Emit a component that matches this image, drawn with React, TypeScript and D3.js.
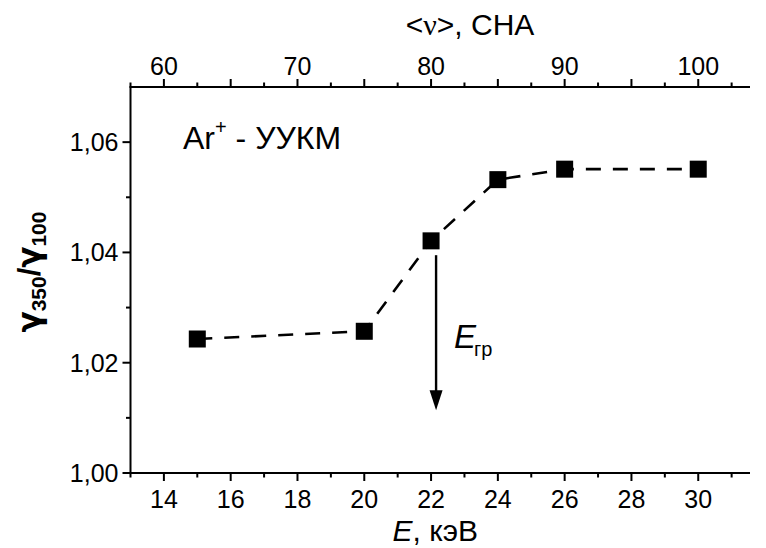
import React from "react";
import * as d3 from "d3";

// Beam energy, keV, and the measured ratio γ350/γ100
const energy = [15, 20, 22, 24, 26, 30];
const ratio = [1.0243, 1.0257, 1.0421, 1.0532, 1.0551, 1.0551];

// Axis ticks
const xMajor = [14, 16, 18, 20, 22, 24, 26, 28, 30];
const xMinor = [13, 15, 17, 19, 21, 23, 25, 27, 29, 31];
const yMajor = [1.0, 1.02, 1.04, 1.06];
const yMinor = [1.01, 1.03, 1.05];
const nuLabels = [60, 70, 80, 90, 100];

// Threshold energy marker
const thresholdE = 22.15;
const thresholdFrom = 1.0395;
const thresholdTo = 1.0114;

const W = 766;
const H = 548;
const FONT = "'Liberation Sans', Arial, Helvetica, sans-serif";
const GREEK = "'DejaVu Sans', 'Liberation Sans', sans-serif";

export default function App() {
  const left = 130.5;
  const right = 750;
  const top = 87;
  const bottom = 473;

  const x = d3.scaleLinear().domain([13, 31.55]).range([left, right]);
  const y = d3.scaleLinear().domain([1.0, 1.07]).range([bottom, top]);
  // top axis: <ν> is linear in E (E=14 → 60, E=30 → 100)
  const nuOf = (e: number) => 60 + 2.5 * (e - 14);
  const xNu = d3.scaleLinear().domain([nuOf(13), nuOf(31.55)]).range([left, right]);

  const pts = energy.map((e, i) => [x(e), y(ratio[i])] as [number, number]);
  const line = d3.line()(pts) || "";

  const fmt = (v: number) => v.toFixed(2).replace(".", ",");
  const major = 8;
  const minor = 4.5;
  const sw = 2;
  const ax = thresholdE;

  return (
    <svg width={W} height={H} style={{ position: "absolute", left: 0, top: 0 }}
      fontFamily={FONT}>
      <rect width={W} height={H} fill="#fff" />

      {/* left axis */}
      <line x1={left} x2={left} y1={top} y2={bottom} stroke="#000" strokeWidth={sw} />
      {yMajor.map((v) => (
        <g key={"ym" + v}>
          <line x1={left - major} x2={left} y1={y(v)} y2={y(v)} stroke="#000" strokeWidth={sw} />
          <text x={left - 12} y={y(v)} dy="0.36em" textAnchor="end" fontSize={25}>{fmt(v)}</text>
        </g>
      ))}
      {yMinor.map((v) => (
        <line key={"yn" + v} x1={left - minor} x2={left} y1={y(v)} y2={y(v)} stroke="#000" strokeWidth={sw} />
      ))}

      {/* bottom axis */}
      <line x1={left - 1} x2={right} y1={bottom} y2={bottom} stroke="#000" strokeWidth={sw} />
      {xMajor.map((v) => (
        <g key={"xm" + v}>
          <line x1={x(v)} x2={x(v)} y1={bottom} y2={bottom + major} stroke="#000" strokeWidth={sw} />
          <text x={x(v)} y={bottom + 35} textAnchor="middle" fontSize={25}>{v}</text>
        </g>
      ))}
      {xMinor.map((v) => (
        <line key={"xn" + v} x1={x(v)} x2={x(v)} y1={bottom} y2={bottom + minor} stroke="#000" strokeWidth={sw} />
      ))}

      {/* top axis, <ν> */}
      <line x1={left - 1} x2={right} y1={top} y2={top} stroke="#000" strokeWidth={sw} />
      {d3.range(60, 101, 5).map((v) => (
        <line key={"tm" + v} x1={xNu(v)} x2={xNu(v)} y1={top} y2={top - major} stroke="#000" strokeWidth={sw} />
      ))}
      {d3.range(57.5, 104, 5).map((v) => (
        <line key={"tn" + v} x1={xNu(v)} x2={xNu(v)} y1={top} y2={top - minor} stroke="#000" strokeWidth={sw} />
      ))}
      {nuLabels.map((v) => (
        <text key={"tl" + v} x={xNu(v)} y={top - 12} textAnchor="middle" fontSize={25}>{v}</text>
      ))}

      {/* axis titles */}
      <text x={470} y={35} textAnchor="middle" fontSize={30}>
        {"<"}<tspan fontFamily="'Liberation Serif', serif">ν</tspan>{">, СНА"}
      </text>
      <text x={(left + right) / 2 - 5} y={541} textAnchor="middle" fontSize={30}>
        <tspan fontStyle="italic">E</tspan>, кэВ
      </text>
      <text transform={`translate(40, ${(top + bottom) / 2 - 8}) rotate(-90)`} textAnchor="middle"
        fontSize={31} fontWeight="bold">
        <tspan fontFamily={GREEK}>γ</tspan>
        <tspan fontSize={21} dy={6}>350</tspan>
        <tspan dy={-6}>/</tspan>
        <tspan fontFamily={GREEK}>γ</tspan>
        <tspan fontSize={21} dy={6}>100</tspan>
      </text>

      {/* annotation */}
      <text x={183} y={149} fontSize={32}>
        Ar<tspan fontSize={20} dy={-15}>+</tspan><tspan dy={15}> - УУКМ</tspan>
      </text>

      {/* dashed guide through the points */}
      <path d={line} fill="none" stroke="#000" strokeWidth={2.6} strokeDasharray="15 12" />
      {pts.map(([px, py], i) => (
        <rect key={"p" + i} x={px - 8.5} y={py - 8.5} width={17} height={17} fill="#000" />
      ))}

      {/* threshold arrow */}
      <line x1={x(ax)} x2={x(ax)} y1={y(thresholdFrom)} y2={y(thresholdTo) - 16} stroke="#000" strokeWidth={2.4} />
      <path d={`M${x(ax) - 6.5},${y(thresholdTo) - 20} L${x(ax) + 6.5},${y(thresholdTo) - 20} L${x(ax)},${y(thresholdTo)} Z`} fill="#000" />
      <text x={x(ax) + 18} y={348} fontSize={33} fontStyle="italic">E</text>
      <text x={x(ax) + 38} y={356} fontSize={20}>гр</text>
    </svg>
  );
}
